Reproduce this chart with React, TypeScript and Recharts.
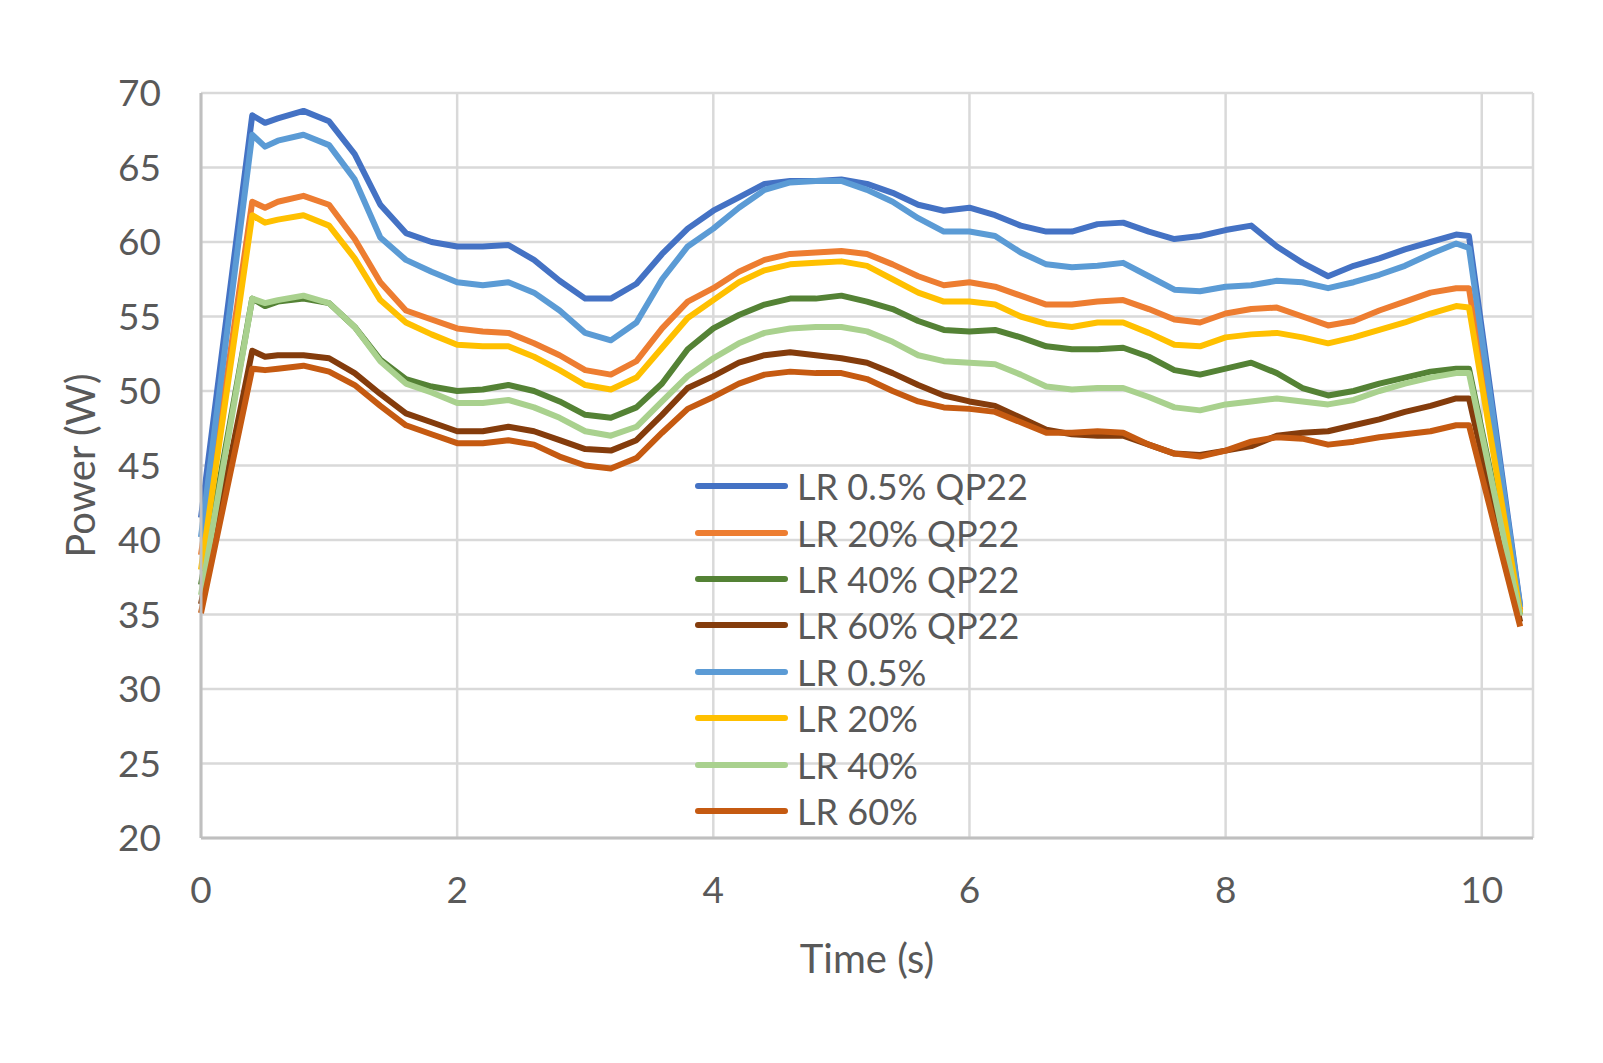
import { LineChart, Line, XAxis, YAxis, CartesianGrid, Legend } from 'recharts';

// time samples (s)
const times = [0, 0.4, 0.5, 0.6, 0.8, 1.0, 1.2, 1.4, 1.6, 1.8, 2.0, 2.2, 2.4, 2.6, 2.8, 3.0, 3.2, 3.4, 3.6, 3.8, 4.0, 4.2, 4.4, 4.6, 4.8, 5.0, 5.2, 5.4, 5.6, 5.8, 6.0, 6.2, 6.4, 6.6, 6.8, 7.0, 7.2, 7.4, 7.6, 7.8, 8.0, 8.2, 8.4, 8.6, 8.8, 9.0, 9.2, 9.4, 9.6, 9.8, 9.9, 10.3];

// power (W) per configuration
const lr05qp22 = [41.5, 68.5, 68.0, 68.3, 68.8, 68.1, 65.9, 62.5, 60.6, 60.0, 59.7, 59.7, 59.8, 58.8, 57.4, 56.2, 56.2, 57.2, 59.2, 60.9, 62.1, 63.0, 63.9, 64.1, 64.1, 64.2, 63.9, 63.3, 62.5, 62.1, 62.3, 61.8, 61.1, 60.7, 60.7, 61.2, 61.3, 60.7, 60.2, 60.4, 60.8, 61.1, 59.7, 58.6, 57.7, 58.4, 58.9, 59.5, 60.0, 60.5, 60.4, 35.6];
const lr20qp22 = [39.0, 62.7, 62.3, 62.7, 63.1, 62.5, 60.2, 57.3, 55.4, 54.8, 54.2, 54.0, 53.9, 53.2, 52.4, 51.4, 51.1, 52.0, 54.2, 56.0, 56.9, 58.0, 58.8, 59.2, 59.3, 59.4, 59.2, 58.5, 57.7, 57.1, 57.3, 57.0, 56.4, 55.8, 55.8, 56.0, 56.1, 55.5, 54.8, 54.6, 55.2, 55.5, 55.6, 55.0, 54.4, 54.7, 55.4, 56.0, 56.6, 56.9, 56.9, 35.3];
const lr40qp22 = [37.0, 56.2, 55.7, 56.0, 56.2, 55.9, 54.3, 52.1, 50.8, 50.3, 50.0, 50.1, 50.4, 50.0, 49.3, 48.4, 48.2, 48.9, 50.5, 52.8, 54.2, 55.1, 55.8, 56.2, 56.2, 56.4, 56.0, 55.5, 54.7, 54.1, 54.0, 54.1, 53.6, 53.0, 52.8, 52.8, 52.9, 52.3, 51.4, 51.1, 51.5, 51.9, 51.2, 50.2, 49.7, 50.0, 50.5, 50.9, 51.3, 51.5, 51.5, 35.0];
const lr60qp22 = [35.7, 52.7, 52.3, 52.4, 52.4, 52.2, 51.2, 49.8, 48.5, 47.9, 47.3, 47.3, 47.6, 47.3, 46.7, 46.1, 46.0, 46.7, 48.4, 50.2, 51.0, 51.9, 52.4, 52.6, 52.4, 52.2, 51.9, 51.2, 50.4, 49.7, 49.3, 49.0, 48.2, 47.4, 47.1, 47.0, 47.0, 46.4, 45.8, 45.7, 46.0, 46.3, 47.0, 47.2, 47.3, 47.7, 48.1, 48.6, 49.0, 49.5, 49.5, 34.5];
const lr05 = [40.2, 67.2, 66.4, 66.8, 67.2, 66.5, 64.2, 60.3, 58.8, 58.0, 57.3, 57.1, 57.3, 56.6, 55.4, 53.9, 53.4, 54.6, 57.5, 59.7, 60.9, 62.3, 63.5, 64.0, 64.1, 64.1, 63.5, 62.7, 61.6, 60.7, 60.7, 60.4, 59.3, 58.5, 58.3, 58.4, 58.6, 57.7, 56.8, 56.7, 57.0, 57.1, 57.4, 57.3, 56.9, 57.3, 57.8, 58.4, 59.2, 59.9, 59.6, 35.5];
const lr20 = [38.0, 61.8, 61.3, 61.5, 61.8, 61.1, 58.9, 56.1, 54.6, 53.8, 53.1, 53.0, 53.0, 52.3, 51.4, 50.4, 50.1, 50.9, 52.9, 54.9, 56.1, 57.3, 58.1, 58.5, 58.6, 58.7, 58.4, 57.5, 56.6, 56.0, 56.0, 55.8, 55.0, 54.5, 54.3, 54.6, 54.6, 53.9, 53.1, 53.0, 53.6, 53.8, 53.9, 53.6, 53.2, 53.6, 54.1, 54.6, 55.2, 55.7, 55.6, 35.1];
const lr40 = [36.3, 56.2, 55.9, 56.1, 56.4, 55.9, 54.3, 52.0, 50.5, 49.9, 49.2, 49.2, 49.4, 48.9, 48.2, 47.3, 47.0, 47.6, 49.3, 51.0, 52.2, 53.2, 53.9, 54.2, 54.3, 54.3, 54.0, 53.3, 52.4, 52.0, 51.9, 51.8, 51.1, 50.3, 50.1, 50.2, 50.2, 49.6, 48.9, 48.7, 49.1, 49.3, 49.5, 49.3, 49.1, 49.4, 50.0, 50.5, 50.9, 51.2, 51.2, 34.9];
const lr60 = [35.1, 51.5, 51.4, 51.5, 51.7, 51.3, 50.4, 49.0, 47.7, 47.1, 46.5, 46.5, 46.7, 46.4, 45.6, 45.0, 44.8, 45.5, 47.2, 48.8, 49.6, 50.5, 51.1, 51.3, 51.2, 51.2, 50.8, 50.0, 49.3, 48.9, 48.8, 48.6, 47.9, 47.2, 47.2, 47.3, 47.2, 46.4, 45.8, 45.6, 46.0, 46.6, 46.9, 46.8, 46.4, 46.6, 46.9, 47.1, 47.3, 47.7, 47.7, 34.2];

const xTicks = [0, 2, 4, 6, 8, 10];
const yTicks = [20, 25, 30, 35, 40, 45, 50, 55, 60, 65, 70];

const SERIES = [
  { key: 'lr05qp22', name: 'LR 0.5% QP22', color: '#4472C4', values: lr05qp22 },
  { key: 'lr20qp22', name: 'LR 20% QP22', color: '#ED7D31', values: lr20qp22 },
  { key: 'lr40qp22', name: 'LR 40% QP22', color: '#548235', values: lr40qp22 },
  { key: 'lr60qp22', name: 'LR 60% QP22', color: '#843C0C', values: lr60qp22 },
  { key: 'lr05', name: 'LR 0.5%', color: '#5B9BD5', values: lr05 },
  { key: 'lr20', name: 'LR 20%', color: '#FFC000', values: lr20 },
  { key: 'lr40', name: 'LR 40%', color: '#A9D18E', values: lr40 },
  { key: 'lr60', name: 'LR 60%', color: '#C55A11', values: lr60 },
];

const rows = times.map((t, i) => {
  const r: Record<string, number> = { t };
  SERIES.forEach(s => { r[s.key] = s.values[i]; });
  return r;
});

const FONT = 'Lato, "Open Sans", sans-serif';
const TEXT = '#595959';

const renderLegend = () => (
  <div style={{ fontFamily: FONT, fontSize: 36, color: TEXT }}>
    {SERIES.map(s => (
      <div key={s.key} style={{ display: 'flex', alignItems: 'center', height: 46.4 }}>
        <svg width={93} height={10} style={{ display: 'block' }}>
          <line x1={3} y1={5} x2={90} y2={5} stroke={s.color} strokeWidth={6} strokeLinecap="round" />
        </svg>
        <span style={{ marginLeft: 9, whiteSpace: 'nowrap', lineHeight: 1 }}>{s.name}</span>
      </div>
    ))}
  </div>
);

export default function App() {
  return (
    <div style={{ position: 'absolute', left: 0, top: 0, width: 1603, height: 1063, background: '#fff' }}>
      <LineChart width={1603} height={1063} data={rows} margin={{ top: 93, right: 70, bottom: 165, left: 31 }}>
        <CartesianGrid stroke="#d9d9d9" strokeWidth={2.5} />
        <XAxis dataKey="t" type="number" domain={[0, 10.4]} ticks={xTicks} height={60}
          axisLine={{ stroke: '#bfbfbf', strokeWidth: 3 }} tickLine={false} tickSize={6} tickMargin={33}
          tick={{ fontSize: 37, fill: TEXT, fontFamily: FONT }}
          label={{ value: 'Time (s)', position: 'bottom', offset: 47, fontSize: 40, fill: TEXT, fontFamily: FONT }} />
        <YAxis type="number" domain={[20, 70]} ticks={yTicks} width={170} interval={0}
          axisLine={{ stroke: '#bfbfbf', strokeWidth: 3 }} tickLine={false} tickSize={6} tickMargin={34}
          tick={{ fontSize: 37, fill: TEXT, fontFamily: FONT }}
          label={{ value: 'Power (W)', angle: -90, position: 'insideLeft', offset: 50, fontSize: 40, fill: TEXT, fontFamily: FONT, style: { textAnchor: 'middle' } }} />
        <Legend layout="vertical" align="center" verticalAlign="middle" content={renderLegend}
          wrapperStyle={{ left: 695, top: 463, width: 'auto', height: 'auto' }} />
        {SERIES.map(s => (
          <Line key={s.key} dataKey={s.key} name={s.name} type="linear" stroke={s.color} strokeWidth={6}
            dot={false} isAnimationActive={false} strokeLinejoin="round" />
        ))}
      </LineChart>
    </div>
  );
}
